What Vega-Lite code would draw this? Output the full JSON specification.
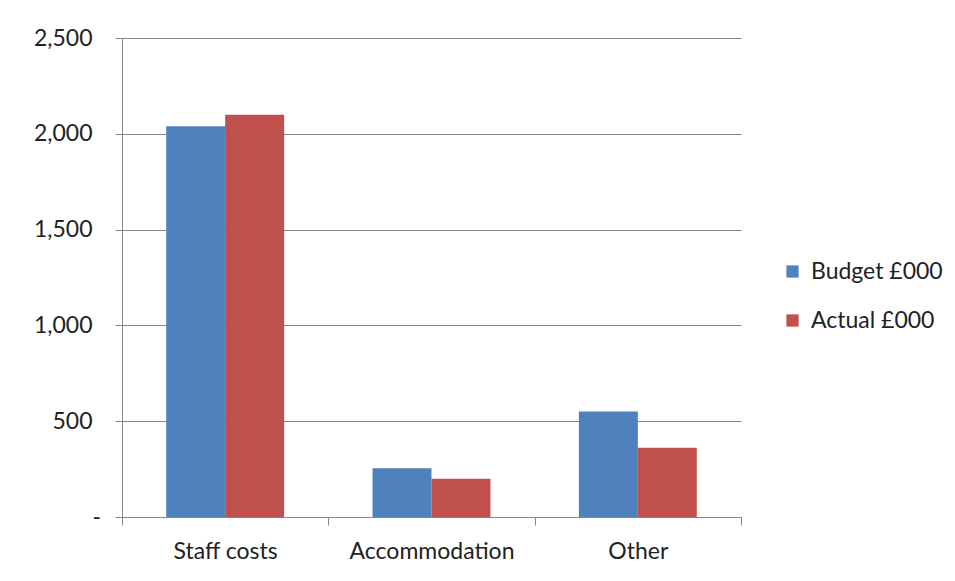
{
  "$schema": "https://vega.github.io/schema/vega-lite/v6.json",
  "autosize": "none",
  "width": 619,
  "height": 479,
  "padding": {"left": 122, "top": 38, "right": 214, "bottom": 64},
  "background": "white",
  "data": {
    "values": [
      {"category": "Staff costs", "series": "Budget £000", "value": 2040},
      {"category": "Staff costs", "series": "Actual £000", "value": 2100},
      {"category": "Accommodation", "series": "Budget £000", "value": 255},
      {"category": "Accommodation", "series": "Actual £000", "value": 200},
      {"category": "Other", "series": "Budget £000", "value": 550},
      {"category": "Other", "series": "Actual £000", "value": 362}
    ]
  },
  "mark": {"type": "bar"},
  "encoding": {
    "x": {
      "field": "category",
      "type": "nominal",
      "sort": ["Staff costs", "Accommodation", "Other"],
      "scale": {"paddingInner": 0, "paddingOuter": 0},
      "axis": {
        "title": null,
        "labelAngle": 0,
        "labelFont": "Lato",
        "labelFontSize": 23,
        "labelColor": "#222222",
        "labelPadding": 15,
        "tickBand": "extent",
        "tickSize": 8,
        "tickColor": "#868686",
        "domainColor": "#868686",
        "grid": false
      }
    },
    "xOffset": {
      "field": "series",
      "type": "nominal",
      "sort": ["Budget £000", "Actual £000"],
      "scale": {"paddingInner": 0, "paddingOuter": 0.75}
    },
    "y": {
      "field": "value",
      "type": "quantitative",
      "scale": {"domain": [0, 2500], "nice": false},
      "axis": {
        "title": null,
        "values": [0, 500, 1000, 1500, 2000, 2500],
        "labelExpr": "datum.value == 0 ? '-' : format(datum.value, ',')",
        "labelAlign": {"condition": {"test": "datum.value == 0", "value": "left"}, "value": "right"},
        "labelFont": "Lato",
        "labelFontSize": 23,
        "labelColor": "#222222",
        "labelPadding": 23,
        "tickSize": 7,
        "tickColor": "#868686",
        "domainColor": "#868686",
        "gridColor": "#868686",
        "grid": true
      }
    },
    "color": {
      "field": "series",
      "type": "nominal",
      "sort": ["Budget £000", "Actual £000"],
      "scale": {"domain": ["Budget £000", "Actual £000"], "range": ["#4F81BD", "#C0504D"]},
      "legend": {
        "title": null,
        "orient": "none",
        "legendX": 659,
        "legendY": 222,
        "symbolType": "square",
        "symbolSize": 150,
        "symbolStrokeWidth": 0,
        "symbolOpacity": 1,
        "labelFont": "Lato",
        "labelFontSize": 23,
        "labelColor": "#222222",
        "labelOffset": 7,
        "rowPadding": 25
      }
    }
  },
  "config": {
    "view": {"stroke": null},
    "axis": {"domainWidth": 1, "tickWidth": 1, "gridWidth": 1}
  }
}
